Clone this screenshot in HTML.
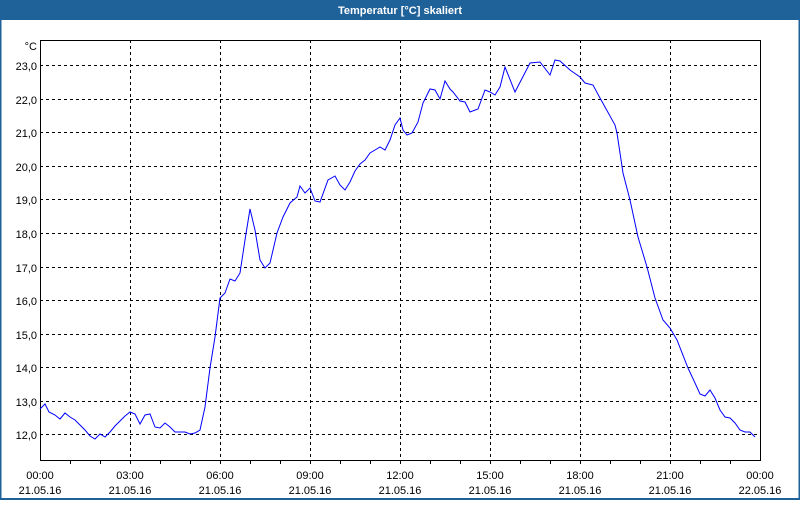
<!DOCTYPE html>
<html><head><meta charset="utf-8"><style>
body{margin:0;width:800px;height:500px;overflow:hidden;background:#fff;font-family:"Liberation Sans",sans-serif}
</style></head><body>
<svg width="800" height="500" xmlns="http://www.w3.org/2000/svg" font-family="Liberation Sans, sans-serif" font-size="11">
<rect x="0" y="0" width="800" height="500" fill="#fff"/>
<rect x="0" y="0" width="800" height="20" fill="#1f6199"/>
<rect x="0" y="0" width="1.5" height="500" fill="#1f6199"/>
<rect x="798.5" y="0" width="1.5" height="500" fill="#1f6199"/>
<rect x="0" y="498" width="800" height="2" fill="#1f6199"/>
<text x="400" y="14" fill="#fff" font-weight="bold" text-anchor="middle">Temperatur [°C] skaliert</text>
<g stroke="#000" stroke-width="1" stroke-dasharray="3,3">
<line x1="40" x2="760" y1="65.5" y2="65.5"/><line x1="40" x2="760" y1="99.5" y2="99.5"/>
<line x1="40" x2="760" y1="132.5" y2="132.5"/><line x1="40" x2="760" y1="166.5" y2="166.5"/>
<line x1="40" x2="760" y1="199.5" y2="199.5"/><line x1="40" x2="760" y1="233.5" y2="233.5"/>
<line x1="40" x2="760" y1="267.5" y2="267.5"/><line x1="40" x2="760" y1="300.5" y2="300.5"/>
<line x1="40" x2="760" y1="334.5" y2="334.5"/><line x1="40" x2="760" y1="367.5" y2="367.5"/>
<line x1="40" x2="760" y1="401.5" y2="401.5"/><line x1="40" x2="760" y1="434.5" y2="434.5"/>
<line x1="130.5" x2="130.5" y1="40" y2="460"/><line x1="220.5" x2="220.5" y1="40" y2="460"/>
<line x1="310.5" x2="310.5" y1="40" y2="460"/><line x1="400.5" x2="400.5" y1="40" y2="460"/>
<line x1="490.5" x2="490.5" y1="40" y2="460"/><line x1="580.5" x2="580.5" y1="40" y2="460"/>
<line x1="670.5" x2="670.5" y1="40" y2="460"/>
</g>
<rect x="40.5" y="40.5" width="720" height="420" fill="none" stroke="#000" stroke-width="1"/>
<g stroke="#000" stroke-width="1">
<line x1="70.5" x2="70.5" y1="460" y2="464"/><line x1="100.5" x2="100.5" y1="460" y2="464"/><line x1="130.5" x2="130.5" y1="460" y2="464"/>
<line x1="160.5" x2="160.5" y1="460" y2="464"/><line x1="190.5" x2="190.5" y1="460" y2="464"/><line x1="220.5" x2="220.5" y1="460" y2="464"/>
<line x1="250.5" x2="250.5" y1="460" y2="464"/><line x1="280.5" x2="280.5" y1="460" y2="464"/><line x1="310.5" x2="310.5" y1="460" y2="464"/>
<line x1="340.5" x2="340.5" y1="460" y2="464"/><line x1="370.5" x2="370.5" y1="460" y2="464"/><line x1="400.5" x2="400.5" y1="460" y2="464"/>
<line x1="430.5" x2="430.5" y1="460" y2="464"/><line x1="460.5" x2="460.5" y1="460" y2="464"/><line x1="490.5" x2="490.5" y1="460" y2="464"/>
<line x1="520.5" x2="520.5" y1="460" y2="464"/><line x1="550.5" x2="550.5" y1="460" y2="464"/><line x1="580.5" x2="580.5" y1="460" y2="464"/>
<line x1="610.5" x2="610.5" y1="460" y2="464"/><line x1="640.5" x2="640.5" y1="460" y2="464"/><line x1="670.5" x2="670.5" y1="460" y2="464"/>
<line x1="700.5" x2="700.5" y1="460" y2="464"/><line x1="730.5" x2="730.5" y1="460" y2="464"/>
</g>
<g fill="#000" text-anchor="end">
<text x="37" y="50">°C</text>
<text x="37" y="70">23,0</text><text x="37" y="104">22,0</text><text x="37" y="137">21,0</text>
<text x="37" y="171">20,0</text><text x="37" y="204">19,0</text><text x="37" y="238">18,0</text>
<text x="37" y="272">17,0</text><text x="37" y="305">16,0</text><text x="37" y="339">15,0</text>
<text x="37" y="372">14,0</text><text x="37" y="406">13,0</text><text x="37" y="439">12,0</text>
</g>
<g fill="#000" text-anchor="middle">
<text x="40" y="479">00:00</text><text x="40" y="494">21.05.16</text>
<text x="130" y="479">03:00</text><text x="130" y="494">21.05.16</text>
<text x="220" y="479">06:00</text><text x="220" y="494">21.05.16</text>
<text x="310" y="479">09:00</text><text x="310" y="494">21.05.16</text>
<text x="400" y="479">12:00</text><text x="400" y="494">21.05.16</text>
<text x="490" y="479">15:00</text><text x="490" y="494">21.05.16</text>
<text x="580" y="479">18:00</text><text x="580" y="494">21.05.16</text>
<text x="670" y="479">21:00</text><text x="670" y="494">21.05.16</text>
<text x="760" y="479">00:00</text><text x="760" y="494">22.05.16</text>
</g>
<polyline fill="none" stroke="#0000ff" stroke-width="1" points="40,409 45,404 49,412 55,415 60,419 65,413 70,417 75,420 80,425 85,430 90,436 95,439 100,434 105,437 110,432 115,426 120,421 125,416 130,412 135,414 140,424 145,415 150,414 155,427 160,428 165,423 170,427 175,432 180,432 185,432 190,434 195,433 200,430 205,407 210,368 215,337 220,298 225,293 230,279 235,281 240,273 245,240 250,209 255,230 260,260 265,268 270,263 277,233 283,217 290,203 297,197 300,186 305,193 310,188 315,201 320,202 328,180 335,176 340,185 345,190 350,182 355,171 360,164 365,160 370,153 375,150 380,147 385,150 390,140 395,125 400,118 403,130 407,135 412,133 418,122 423,103 430,89 435,90 440,99 445,81 450,89 453,92 460,101 465,102 470,112 478,109 485,90 490,92 495,95 500,87 505,67 515,92 530,63 540,62 550,75 555,60 560,61 570,70 580,77 585,83 593,85 600,98 615,125 617,133 623,173 630,200 638,237 647,267 655,298 663,320 670,328 677,340 688,368 695,383 700,394 705,396 710,390 715,398 720,410 725,417 730,418 735,423 740,430 745,432 750,432 755,437"/>
</svg>
</body></html>
